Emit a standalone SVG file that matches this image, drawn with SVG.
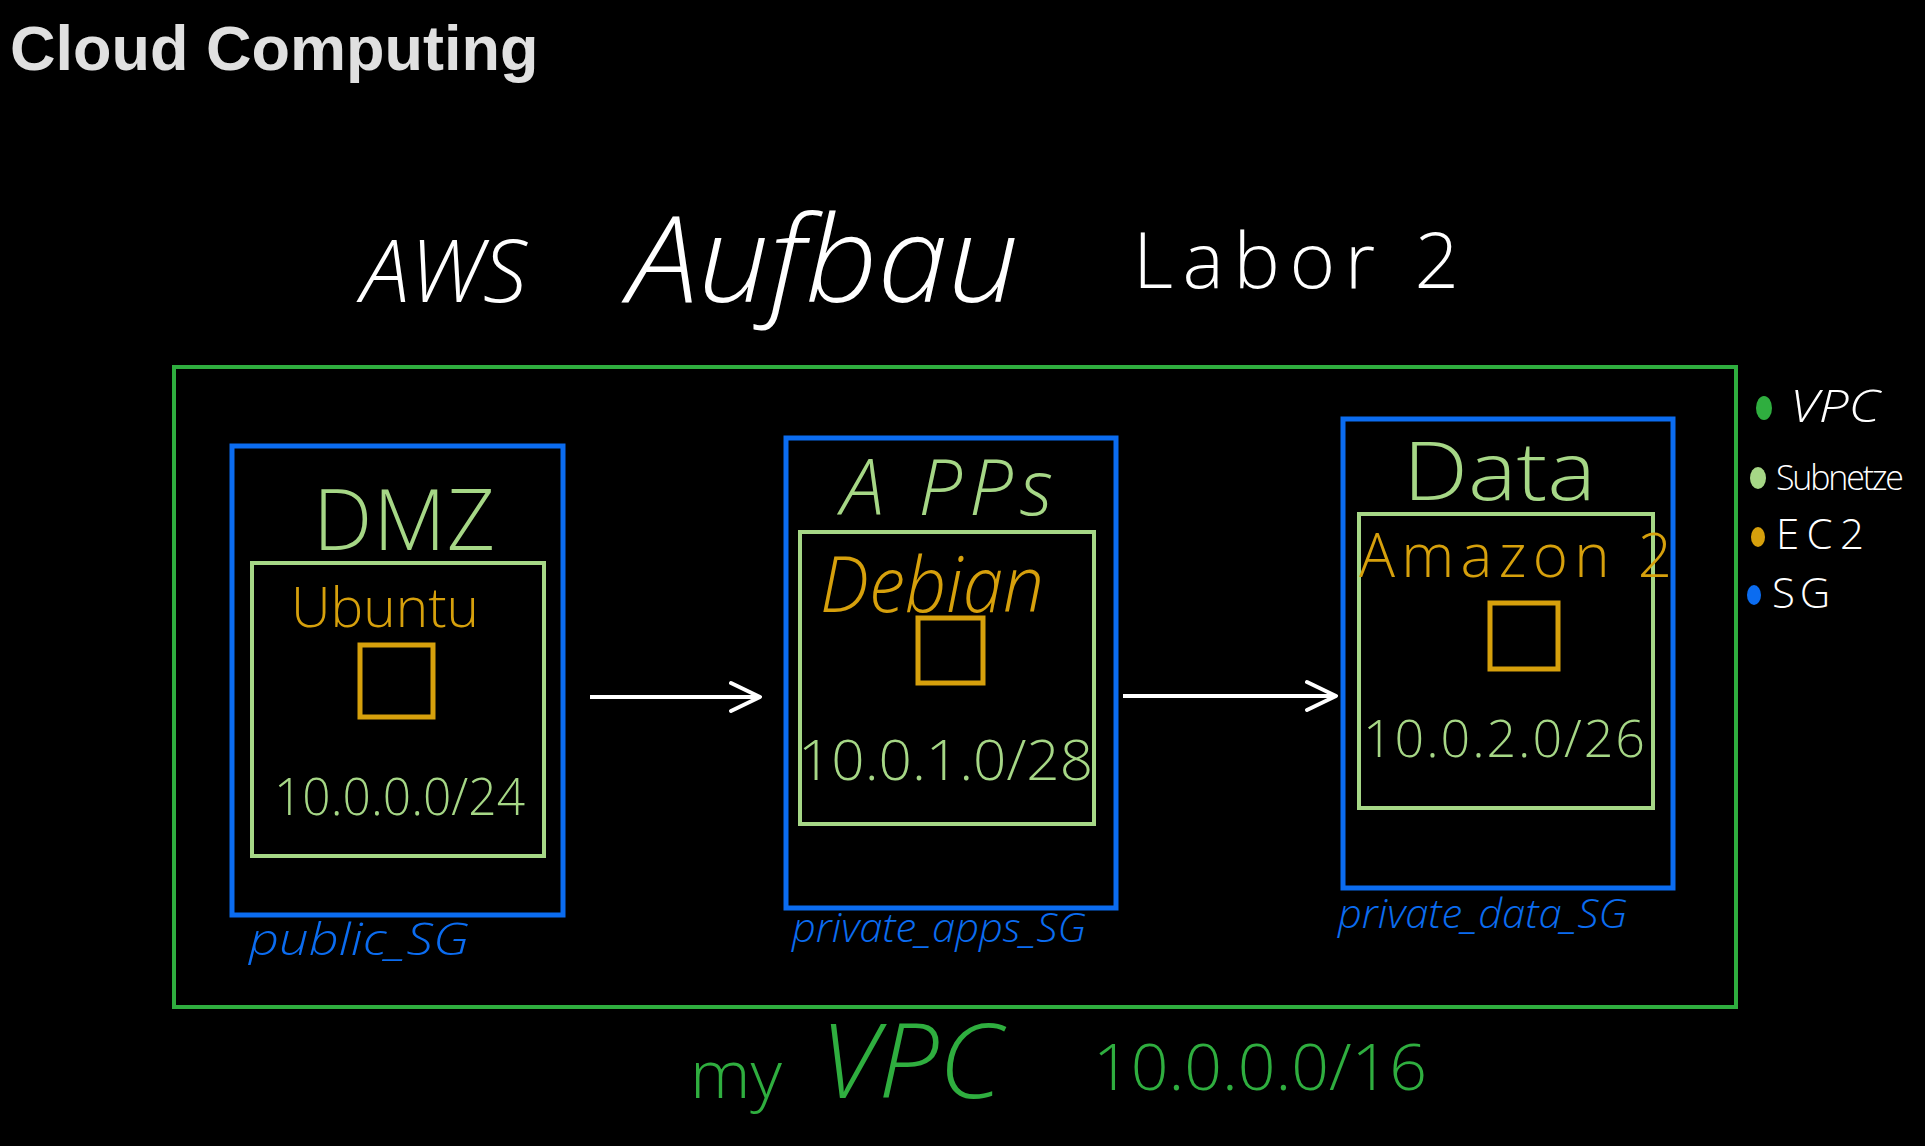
<svg xmlns="http://www.w3.org/2000/svg" width="1925" height="1146" viewBox="0 0 1925 1146">
<style>
.hw{font-family:"Open Sans","Lato","Liberation Sans",sans-serif;font-weight:300}
.vpc{fill:none;stroke:#2fae3f;stroke-width:4}
.sg{fill:none;stroke:#0b6cf0;stroke-width:5}
.sub{fill:none;stroke:#a6d786;stroke-width:4}
.ec2{fill:none;stroke:#d6a00c;stroke-width:5}
.conn{stroke:#ffffff;stroke-width:4;fill:none}
.tw{fill:#ffffff}
.tg{fill:#a6d786}
.to{fill:#d6a00c}
.tb{fill:#0b6cf0}
.tv{fill:#2fae3f}
</style>
<defs>
<marker id="arr" viewBox="0 0 34 34" refX="32" refY="17" markerWidth="34" markerHeight="34" markerUnits="userSpaceOnUse" orient="auto">
<path d="M3,3 L32,17 L3,31" fill="none" stroke="#ffffff" stroke-width="4" stroke-linecap="round" stroke-linejoin="round"/>
</marker>
</defs>
<rect width="1925" height="1146" fill="#000000"/>
<text x="10" y="70" font-family="Liberation Sans, Arial, sans-serif" font-weight="bold" font-size="63" fill="#e0e0e0">Cloud Computing</text>

<g id="title">
<text class="hw tw" x="361" y="302" font-size="86" textLength="166" lengthAdjust="spacingAndGlyphs" font-style="italic">AWS</text>
<text class="hw tw" x="628" y="302" font-size="120" textLength="391" lengthAdjust="spacingAndGlyphs" font-style="italic">Aufbau</text>
<text class="hw tw" x="1133" y="288" font-size="78" textLength="326" lengthAdjust="spacing">Labor 2</text>
</g>

<g id="vpc">
<rect class="vpc" x="174" y="367" width="1562" height="640"/>
<text class="hw tv" x="690" y="1098" font-size="66" textLength="92" lengthAdjust="spacingAndGlyphs">my</text>
<text class="hw tv" x="820" y="1098" font-size="104" textLength="182" lengthAdjust="spacingAndGlyphs" font-style="italic">VPC</text>
<text class="hw tv" x="1093" y="1090" font-size="64" textLength="334" lengthAdjust="spacingAndGlyphs">10.0.0.0/16</text>
</g>

<g id="dmz">
<rect class="sg" x="232" y="446" width="331" height="469"/>
<text class="hw tb" x="249" y="955" font-size="44" textLength="220" lengthAdjust="spacingAndGlyphs" font-style="italic">public_SG</text>
<rect class="sub" x="252" y="563" width="292" height="293"/>
<text class="hw tg" x="313" y="550" font-size="84" textLength="182" lengthAdjust="spacing">DMZ</text>
<text class="hw to" x="291" y="627" font-size="56" textLength="188" lengthAdjust="spacingAndGlyphs">Ubuntu</text>
<rect class="ec2" x="360" y="645" width="73" height="72"/>
<text class="hw tg" x="274" y="815" font-size="52" textLength="251" lengthAdjust="spacingAndGlyphs">10.0.0.0/24</text>
</g>

<g id="apps">
<rect class="sg" x="786" y="438" width="330" height="470"/>
<text class="hw tb" x="792" y="942" font-size="40" textLength="294" lengthAdjust="spacingAndGlyphs" font-style="italic">private_apps_SG</text>
<rect class="sub" x="800" y="532" width="294" height="292"/>
<text class="hw tg" x="841" y="515" font-size="78" textLength="212" lengthAdjust="spacing" font-style="italic">A PPs</text>
<text class="hw to" x="820" y="612" font-size="78" textLength="224" lengthAdjust="spacingAndGlyphs" font-style="italic">Debian</text>
<rect class="ec2" x="918" y="618" width="65" height="65"/>
<text class="hw tg" x="798" y="780" font-size="56" textLength="295" lengthAdjust="spacingAndGlyphs">10.0.1.0/28</text>
</g>

<g id="data">
<rect class="sg" x="1343" y="419" width="330" height="469"/>
<text class="hw tb" x="1338" y="928" font-size="40" textLength="289" lengthAdjust="spacingAndGlyphs" font-style="italic">private_data_SG</text>
<rect class="sub" x="1359" y="514" width="294" height="294"/>
<text class="hw tg" x="1403" y="500" font-size="82" textLength="193" lengthAdjust="spacingAndGlyphs">Data</text>
<text class="hw to" x="1359" y="577" font-size="60" textLength="313" lengthAdjust="spacing">Amazon 2</text>
<rect class="ec2" x="1490" y="603" width="68" height="66"/>
<text class="hw tg" x="1363" y="757" font-size="52" textLength="282" lengthAdjust="spacing">10.0.2.0/26</text>
</g>

<g id="legend">
<ellipse cx="1764" cy="408" rx="8" ry="12" fill="#2fae3f"/>
<text class="hw tw" x="1790" y="422" font-size="44" textLength="90" lengthAdjust="spacingAndGlyphs" font-style="italic">VPC</text>
<ellipse cx="1758" cy="478" rx="8" ry="11" fill="#a6d786"/>
<text class="hw tw" x="1776" y="490" font-size="34" textLength="128" lengthAdjust="spacing">Subnetze</text>
<ellipse cx="1758" cy="537" rx="7" ry="10" fill="#d6a00c"/>
<text class="hw tw" x="1776" y="549" font-size="42" textLength="88" lengthAdjust="spacing">EC2</text>
<ellipse cx="1754" cy="595" rx="7" ry="10" fill="#0b6cf0"/>
<text class="hw tw" x="1772" y="608" font-size="42" textLength="58" lengthAdjust="spacing">SG</text>
</g>

<g id="connectors">
<line class="conn" x1="590" y1="697" x2="760" y2="697" marker-end="url(#arr)"/>
<line class="conn" x1="1123" y1="696" x2="1336" y2="696" marker-end="url(#arr)"/>
</g>
</svg>
